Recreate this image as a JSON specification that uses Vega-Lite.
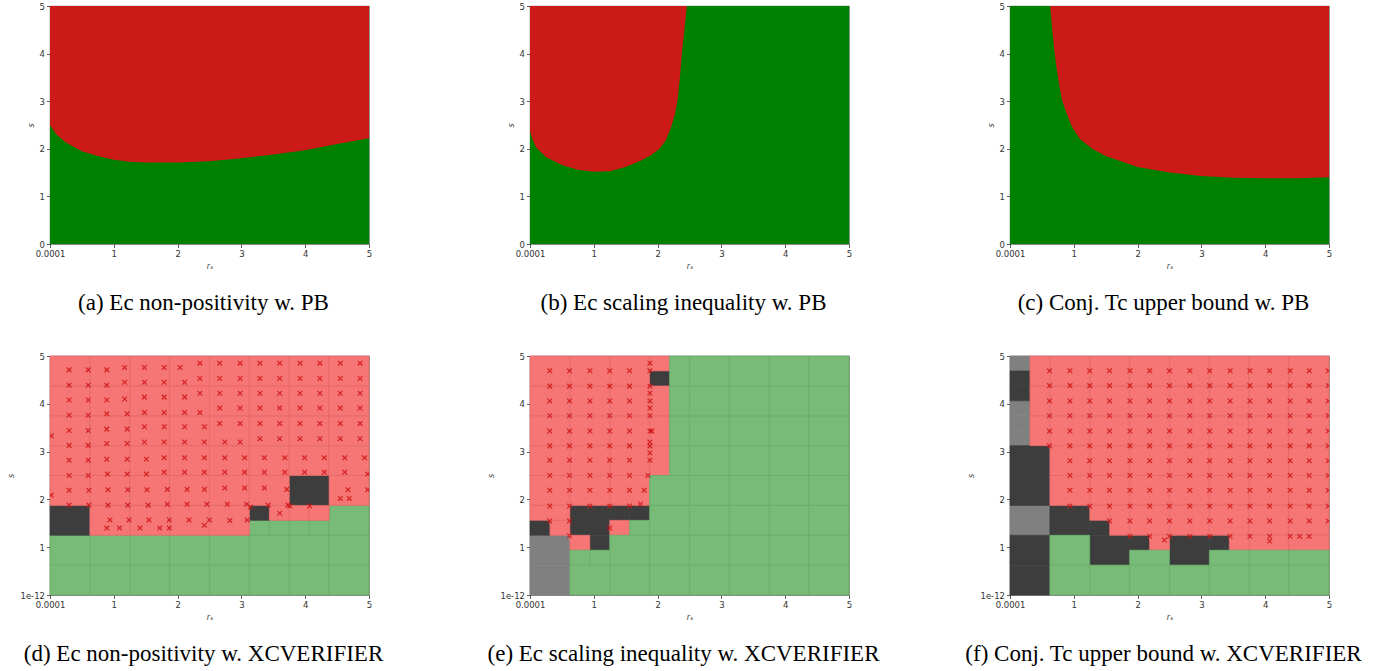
{
  "$schema": "https://vega.github.io/schema/vega-lite/v6.json",
  "background": "white",
  "padding": {"left": 7, "top": 1, "right": 5, "bottom": 0},
  "config": {
    "axis": {"labelFont": "DejaVu Sans", "labelFontSize": 8.5, "labelColor": "#333", "labelFlush": false, "tickColor": "#333", "tickSize": 3.5, "tickWidth": 0.8, "domain": false, "grid": false, "titleFont": "DejaVu Sans", "titleFontSize": 8, "titleFontWeight": "normal", "titleFontStyle": "italic", "titleColor": "#444"},
    "view": {"stroke": "#888", "strokeWidth": 1.2},
    "title": {"font": "Liberation Serif", "fontSize": 23, "fontWeight": "normal", "color": "#000", "orient": "bottom", "anchor": "middle", "frame": "group", "offset": 22, "dx": -6}
  },
  "datasets": {
    "curves": [
      {"p":"a","r":0.0001,"s":2.5},{"p":"a","r":0.1,"s":2.3},{"p":"a","r":0.25,"s":2.13},{"p":"a","r":0.5,"s":1.95},{"p":"a","r":0.75,"s":1.85},{"p":"a","r":1,"s":1.77},{"p":"a","r":1.25,"s":1.73},{"p":"a","r":1.5,"s":1.71},{"p":"a","r":2,"s":1.71},{"p":"a","r":2.5,"s":1.74},{"p":"a","r":3,"s":1.8},{"p":"a","r":3.5,"s":1.88},{"p":"a","r":4,"s":1.97},{"p":"a","r":4.5,"s":2.1},{"p":"a","r":5,"s":2.22},
      {"p":"b","r":0.0001,"s":2.37},{"p":"b","r":0.05,"s":2.16},{"p":"b","r":0.1,"s":2.02},{"p":"b","r":0.25,"s":1.83},{"p":"b","r":0.5,"s":1.66},{"p":"b","r":0.75,"s":1.56},{"p":"b","r":1,"s":1.52},{"p":"b","r":1.25,"s":1.53},{"p":"b","r":1.5,"s":1.62},{"p":"b","r":1.75,"s":1.76},{"p":"b","r":1.9,"s":1.87},{"p":"b","r":2.03,"s":2.0},{"p":"b","r":2.13,"s":2.18},{"p":"b","r":2.21,"s":2.45},{"p":"b","r":2.27,"s":2.72},{"p":"b","r":2.31,"s":3.0},{"p":"b","r":2.35,"s":3.5},{"p":"b","r":2.38,"s":4.0},{"p":"b","r":2.42,"s":4.5},{"p":"b","r":2.46,"s":5},{"p":"b","r":5,"s":5},
      {"p":"c","r":0.0001,"s":5},{"p":"c","r":0.63,"s":5},{"p":"c","r":0.67,"s":4.4},{"p":"c","r":0.7,"s":4.0},{"p":"c","r":0.73,"s":3.7},{"p":"c","r":0.77,"s":3.35},{"p":"c","r":0.82,"s":3.0},{"p":"c","r":0.9,"s":2.7},{"p":"c","r":0.98,"s":2.44},{"p":"c","r":1.1,"s":2.2},{"p":"c","r":1.29,"s":2.0},{"p":"c","r":1.5,"s":1.85},{"p":"c","r":2,"s":1.62},{"p":"c","r":2.5,"s":1.5},{"p":"c","r":3,"s":1.43},{"p":"c","r":3.5,"s":1.39},{"p":"c","r":4,"s":1.38},{"p":"c","r":4.5,"s":1.38},{"p":"c","r":5,"s":1.4}
    ],
    "cells": [
      {"p":"d","x0":0,"x1":0.625,"y0":0,"y1":0.625,"st":"ok"},{"p":"d","x0":0.625,"x1":1.25,"y0":0,"y1":0.625,"st":"ok"},{"p":"d","x0":1.25,"x1":1.875,"y0":0,"y1":0.625,"st":"ok"},{"p":"d","x0":1.875,"x1":2.5,"y0":0,"y1":0.625,"st":"ok"},{"p":"d","x0":2.5,"x1":3.125,"y0":0,"y1":0.625,"st":"ok"},{"p":"d","x0":3.125,"x1":3.75,"y0":0,"y1":0.625,"st":"ok"},{"p":"d","x0":3.75,"x1":4.375,"y0":0,"y1":0.625,"st":"ok"},{"p":"d","x0":4.375,"x1":5,"y0":0,"y1":0.625,"st":"ok"},
      {"p":"d","x0":0,"x1":0.625,"y0":0.625,"y1":1.25,"st":"ok"},{"p":"d","x0":0.625,"x1":1.25,"y0":0.625,"y1":1.25,"st":"ok"},{"p":"d","x0":1.25,"x1":1.875,"y0":0.625,"y1":1.25,"st":"ok"},{"p":"d","x0":1.875,"x1":2.5,"y0":0.625,"y1":1.25,"st":"ok"},{"p":"d","x0":2.5,"x1":3.125,"y0":0.625,"y1":1.25,"st":"ok"},{"p":"d","x0":3.125,"x1":3.75,"y0":0.625,"y1":1.25,"st":"ok"},{"p":"d","x0":3.75,"x1":4.375,"y0":0.625,"y1":1.25,"st":"ok"},{"p":"d","x0":4.375,"x1":5,"y0":0.625,"y1":1.25,"st":"ok"},
      {"p":"d","x0":3.125,"x1":3.4375,"y0":1.25,"y1":1.5625,"st":"ok"},{"p":"d","x0":3.4375,"x1":3.75,"y0":1.25,"y1":1.5625,"st":"ok"},{"p":"d","x0":3.75,"x1":4.0625,"y0":1.25,"y1":1.5625,"st":"ok"},{"p":"d","x0":4.0625,"x1":4.375,"y0":1.25,"y1":1.5625,"st":"ok"},{"p":"d","x0":4.375,"x1":5,"y0":1.25,"y1":1.875,"st":"ok"},
      {"p":"d","x0":0,"x1":0.625,"y0":1.25,"y1":1.875,"st":"open"},{"p":"d","x0":3.125,"x1":3.4375,"y0":1.5625,"y1":1.875,"st":"open"},{"p":"d","x0":3.75,"x1":4.375,"y0":1.875,"y1":2.5,"st":"open"},
      {"p":"d","x0":0.625,"x1":1.25,"y0":1.25,"y1":1.875,"st":"fail"},{"p":"d","x0":1.25,"x1":1.875,"y0":1.25,"y1":1.875,"st":"fail"},{"p":"d","x0":1.875,"x1":2.5,"y0":1.25,"y1":1.875,"st":"fail"},{"p":"d","x0":2.5,"x1":3.125,"y0":1.25,"y1":1.875,"st":"fail"},{"p":"d","x0":3.4375,"x1":3.75,"y0":1.5625,"y1":1.875,"st":"fail"},{"p":"d","x0":3.75,"x1":4.0625,"y0":1.5625,"y1":1.875,"st":"fail"},{"p":"d","x0":4.0625,"x1":4.375,"y0":1.5625,"y1":1.875,"st":"fail"},
      {"p":"d","x0":0,"x1":0.625,"y0":1.875,"y1":2.5,"st":"fail"},{"p":"d","x0":0.625,"x1":1.25,"y0":1.875,"y1":2.5,"st":"fail"},{"p":"d","x0":1.25,"x1":1.875,"y0":1.875,"y1":2.5,"st":"fail"},{"p":"d","x0":1.875,"x1":2.5,"y0":1.875,"y1":2.5,"st":"fail"},{"p":"d","x0":2.5,"x1":3.125,"y0":1.875,"y1":2.5,"st":"fail"},{"p":"d","x0":3.125,"x1":3.75,"y0":1.875,"y1":2.5,"st":"fail"},{"p":"d","x0":4.375,"x1":5,"y0":1.875,"y1":2.5,"st":"fail"},
      {"p":"d","x0":0,"x1":0.625,"y0":2.5,"y1":3.125,"st":"fail"},{"p":"d","x0":0.625,"x1":1.25,"y0":2.5,"y1":3.125,"st":"fail"},{"p":"d","x0":1.25,"x1":1.875,"y0":2.5,"y1":3.125,"st":"fail"},{"p":"d","x0":1.875,"x1":2.5,"y0":2.5,"y1":3.125,"st":"fail"},{"p":"d","x0":2.5,"x1":3.125,"y0":2.5,"y1":3.125,"st":"fail"},{"p":"d","x0":3.125,"x1":3.75,"y0":2.5,"y1":3.125,"st":"fail"},{"p":"d","x0":3.75,"x1":4.375,"y0":2.5,"y1":3.125,"st":"fail"},{"p":"d","x0":4.375,"x1":5,"y0":2.5,"y1":3.125,"st":"fail"},
      {"p":"d","x0":0,"x1":0.625,"y0":3.125,"y1":3.75,"st":"fail"},{"p":"d","x0":0.625,"x1":1.25,"y0":3.125,"y1":3.75,"st":"fail"},{"p":"d","x0":1.25,"x1":1.875,"y0":3.125,"y1":3.75,"st":"fail"},{"p":"d","x0":1.875,"x1":2.5,"y0":3.125,"y1":3.75,"st":"fail"},{"p":"d","x0":2.5,"x1":3.125,"y0":3.125,"y1":3.75,"st":"fail"},{"p":"d","x0":3.125,"x1":3.75,"y0":3.125,"y1":3.75,"st":"fail"},{"p":"d","x0":3.75,"x1":4.375,"y0":3.125,"y1":3.75,"st":"fail"},{"p":"d","x0":4.375,"x1":5,"y0":3.125,"y1":3.75,"st":"fail"},
      {"p":"d","x0":0,"x1":0.625,"y0":3.75,"y1":4.375,"st":"fail"},{"p":"d","x0":0.625,"x1":1.25,"y0":3.75,"y1":4.375,"st":"fail"},{"p":"d","x0":1.25,"x1":1.875,"y0":3.75,"y1":4.375,"st":"fail"},{"p":"d","x0":1.875,"x1":2.5,"y0":3.75,"y1":4.375,"st":"fail"},{"p":"d","x0":2.5,"x1":3.125,"y0":3.75,"y1":4.375,"st":"fail"},{"p":"d","x0":3.125,"x1":3.75,"y0":3.75,"y1":4.375,"st":"fail"},{"p":"d","x0":3.75,"x1":4.375,"y0":3.75,"y1":4.375,"st":"fail"},{"p":"d","x0":4.375,"x1":5,"y0":3.75,"y1":4.375,"st":"fail"},
      {"p":"d","x0":0,"x1":0.625,"y0":4.375,"y1":5,"st":"fail"},{"p":"d","x0":0.625,"x1":1.25,"y0":4.375,"y1":5,"st":"fail"},{"p":"d","x0":1.25,"x1":1.875,"y0":4.375,"y1":5,"st":"fail"},{"p":"d","x0":1.875,"x1":2.5,"y0":4.375,"y1":5,"st":"fail"},{"p":"d","x0":2.5,"x1":3.125,"y0":4.375,"y1":5,"st":"fail"},{"p":"d","x0":3.125,"x1":3.75,"y0":4.375,"y1":5,"st":"fail"},{"p":"d","x0":3.75,"x1":4.375,"y0":4.375,"y1":5,"st":"fail"},{"p":"d","x0":4.375,"x1":5,"y0":4.375,"y1":5,"st":"fail"},

      {"p":"e","x0":0,"x1":0.625,"y0":0,"y1":0.625,"st":"na"},{"p":"e","x0":0,"x1":0.625,"y0":0.625,"y1":1.25,"st":"na"},
      {"p":"e","x0":0,"x1":0.3125,"y0":1.25,"y1":1.5625,"st":"open"},{"p":"e","x0":0.625,"x1":1.25,"y0":1.25,"y1":1.875,"st":"open"},{"p":"e","x0":1.25,"x1":1.5625,"y0":1.5625,"y1":1.875,"st":"open"},{"p":"e","x0":1.5625,"x1":1.875,"y0":1.5625,"y1":1.875,"st":"open"},{"p":"e","x0":0.9375,"x1":1.25,"y0":0.9375,"y1":1.25,"st":"open"},{"p":"e","x0":1.875,"x1":2.1875,"y0":4.375,"y1":4.6875,"st":"open"},
      {"p":"e","x0":0.3125,"x1":0.625,"y0":1.25,"y1":1.5625,"st":"fail"},{"p":"e","x0":0,"x1":0.625,"y0":1.5625,"y1":1.875,"st":"fail"},{"p":"e","x0":1.25,"x1":1.5625,"y0":1.25,"y1":1.5625,"st":"fail"},{"p":"e","x0":0.625,"x1":0.9375,"y0":0.9375,"y1":1.25,"st":"fail"},
      {"p":"e","x0":0,"x1":0.625,"y0":1.875,"y1":2.5,"st":"fail"},{"p":"e","x0":0.625,"x1":1.25,"y0":1.875,"y1":2.5,"st":"fail"},{"p":"e","x0":1.25,"x1":1.875,"y0":1.875,"y1":2.5,"st":"fail"},
      {"p":"e","x0":0,"x1":0.625,"y0":2.5,"y1":3.125,"st":"fail"},{"p":"e","x0":0.625,"x1":1.25,"y0":2.5,"y1":3.125,"st":"fail"},{"p":"e","x0":1.25,"x1":1.875,"y0":2.5,"y1":3.125,"st":"fail"},
      {"p":"e","x0":0,"x1":0.625,"y0":3.125,"y1":3.75,"st":"fail"},{"p":"e","x0":0.625,"x1":1.25,"y0":3.125,"y1":3.75,"st":"fail"},{"p":"e","x0":1.25,"x1":1.875,"y0":3.125,"y1":3.75,"st":"fail"},
      {"p":"e","x0":0,"x1":0.625,"y0":3.75,"y1":4.375,"st":"fail"},{"p":"e","x0":0.625,"x1":1.25,"y0":3.75,"y1":4.375,"st":"fail"},{"p":"e","x0":1.25,"x1":1.875,"y0":3.75,"y1":4.375,"st":"fail"},
      {"p":"e","x0":0,"x1":0.625,"y0":4.375,"y1":5,"st":"fail"},{"p":"e","x0":0.625,"x1":1.25,"y0":4.375,"y1":5,"st":"fail"},{"p":"e","x0":1.25,"x1":1.875,"y0":4.375,"y1":5,"st":"fail"},
      {"p":"e","x0":1.875,"x1":2.1875,"y0":2.5,"y1":3.125,"st":"fail"},{"p":"e","x0":1.875,"x1":2.1875,"y0":3.125,"y1":3.75,"st":"fail"},{"p":"e","x0":1.875,"x1":2.1875,"y0":3.75,"y1":4.375,"st":"fail"},{"p":"e","x0":1.875,"x1":2.1875,"y0":4.6875,"y1":5,"st":"fail"},
      {"p":"e","x0":0.625,"x1":1.25,"y0":0,"y1":0.625,"st":"ok"},{"p":"e","x0":1.25,"x1":1.875,"y0":0,"y1":0.625,"st":"ok"},{"p":"e","x0":1.875,"x1":2.5,"y0":0,"y1":0.625,"st":"ok"},{"p":"e","x0":2.5,"x1":3.125,"y0":0,"y1":0.625,"st":"ok"},{"p":"e","x0":3.125,"x1":3.75,"y0":0,"y1":0.625,"st":"ok"},{"p":"e","x0":3.75,"x1":4.375,"y0":0,"y1":0.625,"st":"ok"},{"p":"e","x0":4.375,"x1":5,"y0":0,"y1":0.625,"st":"ok"},
      {"p":"e","x0":0.625,"x1":0.9375,"y0":0.625,"y1":0.9375,"st":"ok"},{"p":"e","x0":0.9375,"x1":1.25,"y0":0.625,"y1":0.9375,"st":"ok"},
      {"p":"e","x0":1.25,"x1":1.875,"y0":0.625,"y1":1.25,"st":"ok"},{"p":"e","x0":1.875,"x1":2.5,"y0":0.625,"y1":1.25,"st":"ok"},{"p":"e","x0":2.5,"x1":3.125,"y0":0.625,"y1":1.25,"st":"ok"},{"p":"e","x0":3.125,"x1":3.75,"y0":0.625,"y1":1.25,"st":"ok"},{"p":"e","x0":3.75,"x1":4.375,"y0":0.625,"y1":1.25,"st":"ok"},{"p":"e","x0":4.375,"x1":5,"y0":0.625,"y1":1.25,"st":"ok"},
      {"p":"e","x0":1.5625,"x1":1.875,"y0":1.25,"y1":1.5625,"st":"ok"},
      {"p":"e","x0":1.875,"x1":2.5,"y0":1.25,"y1":1.875,"st":"ok"},{"p":"e","x0":2.5,"x1":3.125,"y0":1.25,"y1":1.875,"st":"ok"},{"p":"e","x0":3.125,"x1":3.75,"y0":1.25,"y1":1.875,"st":"ok"},{"p":"e","x0":3.75,"x1":4.375,"y0":1.25,"y1":1.875,"st":"ok"},{"p":"e","x0":4.375,"x1":5,"y0":1.25,"y1":1.875,"st":"ok"},
      {"p":"e","x0":1.875,"x1":2.5,"y0":1.875,"y1":2.5,"st":"ok"},{"p":"e","x0":2.5,"x1":3.125,"y0":1.875,"y1":2.5,"st":"ok"},{"p":"e","x0":3.125,"x1":3.75,"y0":1.875,"y1":2.5,"st":"ok"},{"p":"e","x0":3.75,"x1":4.375,"y0":1.875,"y1":2.5,"st":"ok"},{"p":"e","x0":4.375,"x1":5,"y0":1.875,"y1":2.5,"st":"ok"},
      {"p":"e","x0":2.1875,"x1":2.5,"y0":2.5,"y1":3.125,"st":"ok"},{"p":"e","x0":2.1875,"x1":2.5,"y0":3.125,"y1":3.75,"st":"ok"},{"p":"e","x0":2.1875,"x1":2.5,"y0":3.75,"y1":4.375,"st":"ok"},{"p":"e","x0":2.1875,"x1":2.5,"y0":4.375,"y1":5,"st":"ok"},
      {"p":"e","x0":2.5,"x1":3.125,"y0":2.5,"y1":3.125,"st":"ok"},{"p":"e","x0":3.125,"x1":3.75,"y0":2.5,"y1":3.125,"st":"ok"},{"p":"e","x0":3.75,"x1":4.375,"y0":2.5,"y1":3.125,"st":"ok"},{"p":"e","x0":4.375,"x1":5,"y0":2.5,"y1":3.125,"st":"ok"},
      {"p":"e","x0":2.5,"x1":3.125,"y0":3.125,"y1":3.75,"st":"ok"},{"p":"e","x0":3.125,"x1":3.75,"y0":3.125,"y1":3.75,"st":"ok"},{"p":"e","x0":3.75,"x1":4.375,"y0":3.125,"y1":3.75,"st":"ok"},{"p":"e","x0":4.375,"x1":5,"y0":3.125,"y1":3.75,"st":"ok"},
      {"p":"e","x0":2.5,"x1":3.125,"y0":3.75,"y1":4.375,"st":"ok"},{"p":"e","x0":3.125,"x1":3.75,"y0":3.75,"y1":4.375,"st":"ok"},{"p":"e","x0":3.75,"x1":4.375,"y0":3.75,"y1":4.375,"st":"ok"},{"p":"e","x0":4.375,"x1":5,"y0":3.75,"y1":4.375,"st":"ok"},
      {"p":"e","x0":2.5,"x1":3.125,"y0":4.375,"y1":5,"st":"ok"},{"p":"e","x0":3.125,"x1":3.75,"y0":4.375,"y1":5,"st":"ok"},{"p":"e","x0":3.75,"x1":4.375,"y0":4.375,"y1":5,"st":"ok"},{"p":"e","x0":4.375,"x1":5,"y0":4.375,"y1":5,"st":"ok"},

      {"p":"f","x0":0,"x1":0.3125,"y0":4.6875,"y1":5,"st":"na"},{"p":"f","x0":0,"x1":0.3125,"y0":3.125,"y1":3.4375,"st":"na"},{"p":"f","x0":0,"x1":0.3125,"y0":3.4375,"y1":3.75,"st":"na"},{"p":"f","x0":0,"x1":0.3125,"y0":3.75,"y1":4.0625,"st":"na"},{"p":"f","x0":0,"x1":0.625,"y0":1.25,"y1":1.875,"st":"na"},
      {"p":"f","x0":0,"x1":0.3125,"y0":4.0625,"y1":4.375,"st":"open"},{"p":"f","x0":0,"x1":0.3125,"y0":4.375,"y1":4.6875,"st":"open"},{"p":"f","x0":0,"x1":0.625,"y0":1.875,"y1":2.5,"st":"open"},{"p":"f","x0":0,"x1":0.625,"y0":2.5,"y1":3.125,"st":"open"},{"p":"f","x0":0,"x1":0.625,"y0":0,"y1":0.625,"st":"open"},{"p":"f","x0":0,"x1":0.625,"y0":0.625,"y1":1.25,"st":"open"},{"p":"f","x0":0.625,"x1":1.25,"y0":1.25,"y1":1.875,"st":"open"},{"p":"f","x0":1.25,"x1":1.5625,"y0":1.25,"y1":1.5625,"st":"open"},{"p":"f","x0":1.25,"x1":1.875,"y0":0.625,"y1":1.25,"st":"open"},{"p":"f","x0":1.875,"x1":2.1875,"y0":0.9375,"y1":1.25,"st":"open"},{"p":"f","x0":2.5,"x1":3.125,"y0":0.625,"y1":1.25,"st":"open"},{"p":"f","x0":3.125,"x1":3.4375,"y0":0.9375,"y1":1.25,"st":"open"},
      {"p":"f","x0":0.3125,"x1":0.625,"y0":3.125,"y1":3.75,"st":"fail"},{"p":"f","x0":0.3125,"x1":0.625,"y0":3.75,"y1":4.375,"st":"fail"},{"p":"f","x0":0.3125,"x1":0.625,"y0":4.375,"y1":5,"st":"fail"},
      {"p":"f","x0":0.625,"x1":1.25,"y0":1.875,"y1":2.5,"st":"fail"},{"p":"f","x0":1.25,"x1":1.875,"y0":1.875,"y1":2.5,"st":"fail"},{"p":"f","x0":1.875,"x1":2.5,"y0":1.875,"y1":2.5,"st":"fail"},{"p":"f","x0":2.5,"x1":3.125,"y0":1.875,"y1":2.5,"st":"fail"},{"p":"f","x0":3.125,"x1":3.75,"y0":1.875,"y1":2.5,"st":"fail"},{"p":"f","x0":3.75,"x1":4.375,"y0":1.875,"y1":2.5,"st":"fail"},{"p":"f","x0":4.375,"x1":5,"y0":1.875,"y1":2.5,"st":"fail"},
      {"p":"f","x0":0.625,"x1":1.25,"y0":2.5,"y1":3.125,"st":"fail"},{"p":"f","x0":1.25,"x1":1.875,"y0":2.5,"y1":3.125,"st":"fail"},{"p":"f","x0":1.875,"x1":2.5,"y0":2.5,"y1":3.125,"st":"fail"},{"p":"f","x0":2.5,"x1":3.125,"y0":2.5,"y1":3.125,"st":"fail"},{"p":"f","x0":3.125,"x1":3.75,"y0":2.5,"y1":3.125,"st":"fail"},{"p":"f","x0":3.75,"x1":4.375,"y0":2.5,"y1":3.125,"st":"fail"},{"p":"f","x0":4.375,"x1":5,"y0":2.5,"y1":3.125,"st":"fail"},
      {"p":"f","x0":0.625,"x1":1.25,"y0":3.125,"y1":3.75,"st":"fail"},{"p":"f","x0":1.25,"x1":1.875,"y0":3.125,"y1":3.75,"st":"fail"},{"p":"f","x0":1.875,"x1":2.5,"y0":3.125,"y1":3.75,"st":"fail"},{"p":"f","x0":2.5,"x1":3.125,"y0":3.125,"y1":3.75,"st":"fail"},{"p":"f","x0":3.125,"x1":3.75,"y0":3.125,"y1":3.75,"st":"fail"},{"p":"f","x0":3.75,"x1":4.375,"y0":3.125,"y1":3.75,"st":"fail"},{"p":"f","x0":4.375,"x1":5,"y0":3.125,"y1":3.75,"st":"fail"},
      {"p":"f","x0":0.625,"x1":1.25,"y0":3.75,"y1":4.375,"st":"fail"},{"p":"f","x0":1.25,"x1":1.875,"y0":3.75,"y1":4.375,"st":"fail"},{"p":"f","x0":1.875,"x1":2.5,"y0":3.75,"y1":4.375,"st":"fail"},{"p":"f","x0":2.5,"x1":3.125,"y0":3.75,"y1":4.375,"st":"fail"},{"p":"f","x0":3.125,"x1":3.75,"y0":3.75,"y1":4.375,"st":"fail"},{"p":"f","x0":3.75,"x1":4.375,"y0":3.75,"y1":4.375,"st":"fail"},{"p":"f","x0":4.375,"x1":5,"y0":3.75,"y1":4.375,"st":"fail"},
      {"p":"f","x0":0.625,"x1":1.25,"y0":4.375,"y1":5,"st":"fail"},{"p":"f","x0":1.25,"x1":1.875,"y0":4.375,"y1":5,"st":"fail"},{"p":"f","x0":1.875,"x1":2.5,"y0":4.375,"y1":5,"st":"fail"},{"p":"f","x0":2.5,"x1":3.125,"y0":4.375,"y1":5,"st":"fail"},{"p":"f","x0":3.125,"x1":3.75,"y0":4.375,"y1":5,"st":"fail"},{"p":"f","x0":3.75,"x1":4.375,"y0":4.375,"y1":5,"st":"fail"},{"p":"f","x0":4.375,"x1":5,"y0":4.375,"y1":5,"st":"fail"},
      {"p":"f","x0":1.25,"x1":1.5625,"y0":1.5625,"y1":1.875,"st":"fail"},{"p":"f","x0":1.5625,"x1":1.875,"y0":1.25,"y1":1.875,"st":"fail"},{"p":"f","x0":1.875,"x1":2.5,"y0":1.25,"y1":1.875,"st":"fail"},{"p":"f","x0":2.5,"x1":3.125,"y0":1.25,"y1":1.875,"st":"fail"},{"p":"f","x0":3.125,"x1":3.75,"y0":1.25,"y1":1.875,"st":"fail"},{"p":"f","x0":3.75,"x1":4.375,"y0":1.25,"y1":1.875,"st":"fail"},{"p":"f","x0":4.375,"x1":5,"y0":1.25,"y1":1.875,"st":"fail"},
      {"p":"f","x0":2.1875,"x1":2.5,"y0":0.9375,"y1":1.25,"st":"fail"},{"p":"f","x0":3.4375,"x1":3.75,"y0":0.9375,"y1":1.25,"st":"fail"},{"p":"f","x0":3.75,"x1":4.375,"y0":0.9375,"y1":1.25,"st":"fail"},{"p":"f","x0":4.375,"x1":5,"y0":0.9375,"y1":1.25,"st":"fail"},
      {"p":"f","x0":0.625,"x1":1.25,"y0":0,"y1":0.625,"st":"ok"},{"p":"f","x0":0.625,"x1":1.25,"y0":0.625,"y1":1.25,"st":"ok"},{"p":"f","x0":1.25,"x1":1.875,"y0":0,"y1":0.625,"st":"ok"},{"p":"f","x0":1.875,"x1":2.5,"y0":0,"y1":0.625,"st":"ok"},{"p":"f","x0":2.5,"x1":3.125,"y0":0,"y1":0.625,"st":"ok"},{"p":"f","x0":3.125,"x1":3.75,"y0":0,"y1":0.625,"st":"ok"},{"p":"f","x0":3.75,"x1":4.375,"y0":0,"y1":0.625,"st":"ok"},{"p":"f","x0":4.375,"x1":5,"y0":0,"y1":0.625,"st":"ok"},
      {"p":"f","x0":1.875,"x1":2.5,"y0":0.625,"y1":0.9375,"st":"ok"},{"p":"f","x0":3.125,"x1":3.75,"y0":0.625,"y1":0.9375,"st":"ok"},{"p":"f","x0":3.75,"x1":4.375,"y0":0.625,"y1":0.9375,"st":"ok"},{"p":"f","x0":4.375,"x1":5,"y0":0.625,"y1":0.9375,"st":"ok"}
    ],
    "pts": [
      {"p":"d","r":2.35,"s":4.85},{"p":"d","r":2.66,"s":4.85},{"p":"d","r":2.98,"s":4.85},{"p":"d","r":3.29,"s":4.85},{"p":"d","r":3.6,"s":4.85},{"p":"d","r":3.92,"s":4.85},{"p":"d","r":4.23,"s":4.85},{"p":"d","r":4.55,"s":4.85},{"p":"d","r":4.86,"s":4.85},
      {"p":"d","r":1.17,"s":4.76},{"p":"d","r":1.48,"s":4.76},{"p":"d","r":1.79,"s":4.76},{"p":"d","r":2.04,"s":4.76},
      {"p":"d","r":0.3,"s":4.71},{"p":"d","r":0.6,"s":4.71},{"p":"d","r":0.89,"s":4.71},
      {"p":"d","r":2.35,"s":4.53},{"p":"d","r":2.66,"s":4.53},{"p":"d","r":2.98,"s":4.53},{"p":"d","r":3.29,"s":4.53},{"p":"d","r":3.6,"s":4.53},{"p":"d","r":3.92,"s":4.53},{"p":"d","r":4.23,"s":4.53},{"p":"d","r":4.55,"s":4.53},{"p":"d","r":4.86,"s":4.53},
      {"p":"d","r":1.17,"s":4.45},{"p":"d","r":1.48,"s":4.45},{"p":"d","r":1.79,"s":4.45},{"p":"d","r":2.11,"s":4.45},
      {"p":"d","r":0.3,"s":4.39},{"p":"d","r":0.6,"s":4.39},{"p":"d","r":0.89,"s":4.39},
      {"p":"d","r":2.35,"s":4.22},{"p":"d","r":2.66,"s":4.22},{"p":"d","r":2.98,"s":4.22},{"p":"d","r":3.29,"s":4.22},{"p":"d","r":3.6,"s":4.22},{"p":"d","r":3.92,"s":4.22},{"p":"d","r":4.23,"s":4.22},{"p":"d","r":4.55,"s":4.22},{"p":"d","r":4.86,"s":4.22},
      {"p":"d","r":1.48,"s":4.14},{"p":"d","r":1.79,"s":4.14},{"p":"d","r":2.11,"s":4.14},{"p":"d","r":1.17,"s":4.1},
      {"p":"d","r":0.3,"s":4.08},{"p":"d","r":0.6,"s":4.08},{"p":"d","r":0.89,"s":4.08},
      {"p":"d","r":2.66,"s":3.91},{"p":"d","r":2.98,"s":3.91},{"p":"d","r":3.29,"s":3.91},{"p":"d","r":3.6,"s":3.91},{"p":"d","r":3.92,"s":3.91},{"p":"d","r":4.23,"s":3.91},{"p":"d","r":4.55,"s":3.91},{"p":"d","r":4.86,"s":3.91},
      {"p":"d","r":1.48,"s":3.82},{"p":"d","r":1.79,"s":3.82},{"p":"d","r":2.11,"s":3.82},{"p":"d","r":2.35,"s":3.82},
      {"p":"d","r":0.89,"s":3.79},{"p":"d","r":1.21,"s":3.79},{"p":"d","r":0.3,"s":3.76},{"p":"d","r":0.6,"s":3.76},
      {"p":"d","r":2.66,"s":3.59},{"p":"d","r":2.98,"s":3.59},{"p":"d","r":3.29,"s":3.59},{"p":"d","r":3.6,"s":3.59},{"p":"d","r":3.92,"s":3.59},{"p":"d","r":4.23,"s":3.59},{"p":"d","r":4.55,"s":3.59},{"p":"d","r":4.86,"s":3.59},
      {"p":"d","r":1.48,"s":3.52},{"p":"d","r":1.79,"s":3.52},{"p":"d","r":2.11,"s":3.52},{"p":"d","r":2.42,"s":3.52},
      {"p":"d","r":0.89,"s":3.47},{"p":"d","r":1.21,"s":3.47},{"p":"d","r":0.3,"s":3.44},{"p":"d","r":0.6,"s":3.44},
      {"p":"d","r":0.02,"s":3.33},
      {"p":"d","r":3.29,"s":3.27},{"p":"d","r":3.6,"s":3.27},{"p":"d","r":3.92,"s":3.27},{"p":"d","r":4.23,"s":3.27},{"p":"d","r":4.55,"s":3.27},{"p":"d","r":4.86,"s":3.27},
      {"p":"d","r":1.48,"s":3.2},{"p":"d","r":1.79,"s":3.2},{"p":"d","r":2.11,"s":3.2},{"p":"d","r":2.42,"s":3.2},{"p":"d","r":2.74,"s":3.2},{"p":"d","r":2.98,"s":3.2},
      {"p":"d","r":0.89,"s":3.17},{"p":"d","r":1.21,"s":3.17},{"p":"d","r":0.3,"s":3.13},{"p":"d","r":0.6,"s":3.13},
      {"p":"d","r":1.79,"s":2.87},{"p":"d","r":2.11,"s":2.87},{"p":"d","r":2.42,"s":2.87},{"p":"d","r":2.74,"s":2.87},{"p":"d","r":3.05,"s":2.87},{"p":"d","r":3.36,"s":2.87},{"p":"d","r":3.68,"s":2.87},{"p":"d","r":3.99,"s":2.87},{"p":"d","r":4.3,"s":2.87},{"p":"d","r":4.62,"s":2.87},{"p":"d","r":4.93,"s":2.87},
      {"p":"d","r":0.89,"s":2.84},{"p":"d","r":1.21,"s":2.84},{"p":"d","r":1.51,"s":2.84},{"p":"d","r":0.3,"s":2.82},{"p":"d","r":0.6,"s":2.82},
      {"p":"d","r":1.79,"s":2.57},{"p":"d","r":2.11,"s":2.57},{"p":"d","r":2.42,"s":2.57},{"p":"d","r":2.74,"s":2.57},{"p":"d","r":3.05,"s":2.57},{"p":"d","r":3.36,"s":2.57},{"p":"d","r":3.68,"s":2.57},{"p":"d","r":3.99,"s":2.57},{"p":"d","r":4.3,"s":2.57},{"p":"d","r":4.62,"s":2.57},
      {"p":"d","r":0.9,"s":2.53},{"p":"d","r":1.21,"s":2.53},{"p":"d","r":1.51,"s":2.53},{"p":"d","r":4.98,"s":2.53},{"p":"d","r":0.3,"s":2.5},{"p":"d","r":0.6,"s":2.5},
      {"p":"d","r":2.74,"s":2.24},{"p":"d","r":3.05,"s":2.24},{"p":"d","r":3.36,"s":2.24},
      {"p":"d","r":1.84,"s":2.21},{"p":"d","r":2.15,"s":2.21},{"p":"d","r":2.42,"s":2.21},{"p":"d","r":3.71,"s":2.21},
      {"p":"d","r":0.91,"s":2.2},{"p":"d","r":1.22,"s":2.2},{"p":"d","r":1.52,"s":2.2},{"p":"d","r":4.67,"s":2.2},{"p":"d","r":4.98,"s":2.2},
      {"p":"d","r":0.3,"s":2.19},{"p":"d","r":0.61,"s":2.19},{"p":"d","r":0.02,"s":2.09},{"p":"d","r":4.55,"s":2.02},{"p":"d","r":4.69,"s":2.02},
      {"p":"d","r":1.84,"s":1.9},{"p":"d","r":2.15,"s":1.9},{"p":"d","r":2.46,"s":1.9},{"p":"d","r":2.78,"s":1.9},{"p":"d","r":3.08,"s":1.9},
      {"p":"d","r":0.3,"s":1.88},{"p":"d","r":0.61,"s":1.88},{"p":"d","r":0.91,"s":1.88},{"p":"d","r":1.22,"s":1.88},{"p":"d","r":1.54,"s":1.88},{"p":"d","r":3.42,"s":1.88},{"p":"d","r":3.73,"s":1.88},
      {"p":"d","r":3.76,"s":1.86},{"p":"d","r":4.07,"s":1.86},{"p":"d","r":3.14,"s":1.84},{"p":"d","r":3.6,"s":1.71},
      {"p":"d","r":0.94,"s":1.57},{"p":"d","r":1.24,"s":1.57},{"p":"d","r":1.55,"s":1.57},{"p":"d","r":1.87,"s":1.57},{"p":"d","r":2.18,"s":1.57},{"p":"d","r":2.5,"s":1.57},{"p":"d","r":3.09,"s":1.57},{"p":"d","r":2.82,"s":1.56},
      {"p":"d","r":2.42,"s":1.46},
      {"p":"d","r":0.89,"s":1.4},{"p":"d","r":1.09,"s":1.4},{"p":"d","r":1.41,"s":1.4},{"p":"d","r":1.72,"s":1.4},{"p":"d","r":1.87,"s":1.4},

      {"p":"e","r":0.31,"s":4.69},{"p":"e","r":0.62,"s":4.69},{"p":"e","r":0.94,"s":4.69},{"p":"e","r":1.25,"s":4.69},{"p":"e","r":1.56,"s":4.69},{"p":"e","r":1.88,"s":4.69},
      {"p":"e","r":0.31,"s":4.37},{"p":"e","r":0.62,"s":4.37},{"p":"e","r":0.94,"s":4.37},{"p":"e","r":1.25,"s":4.37},{"p":"e","r":1.56,"s":4.37},{"p":"e","r":1.88,"s":4.37},
      {"p":"e","r":0.31,"s":4.06},{"p":"e","r":0.62,"s":4.06},{"p":"e","r":0.94,"s":4.06},{"p":"e","r":1.25,"s":4.06},{"p":"e","r":1.56,"s":4.06},{"p":"e","r":1.88,"s":4.06},
      {"p":"e","r":0.31,"s":3.75},{"p":"e","r":0.62,"s":3.75},{"p":"e","r":0.94,"s":3.75},{"p":"e","r":1.25,"s":3.75},{"p":"e","r":1.56,"s":3.75},{"p":"e","r":1.88,"s":3.75},
      {"p":"e","r":0.31,"s":3.43},{"p":"e","r":0.62,"s":3.43},{"p":"e","r":0.94,"s":3.43},{"p":"e","r":1.25,"s":3.43},{"p":"e","r":1.56,"s":3.43},{"p":"e","r":1.88,"s":3.43},{"p":"e","r":1.91,"s":3.43},
      {"p":"e","r":0.31,"s":3.12},{"p":"e","r":0.62,"s":3.12},{"p":"e","r":0.94,"s":3.12},{"p":"e","r":1.25,"s":3.12},{"p":"e","r":1.56,"s":3.12},{"p":"e","r":1.88,"s":3.12},
      {"p":"e","r":0.31,"s":2.82},{"p":"e","r":0.62,"s":2.82},{"p":"e","r":0.94,"s":2.82},{"p":"e","r":1.25,"s":2.82},{"p":"e","r":1.56,"s":2.82},{"p":"e","r":1.88,"s":2.82},
      {"p":"e","r":0.31,"s":2.5},{"p":"e","r":0.62,"s":2.5},{"p":"e","r":0.94,"s":2.5},{"p":"e","r":1.25,"s":2.5},{"p":"e","r":1.56,"s":2.5},{"p":"e","r":1.85,"s":2.5},
      {"p":"e","r":0.31,"s":2.19},{"p":"e","r":0.62,"s":2.19},{"p":"e","r":0.94,"s":2.19},{"p":"e","r":1.25,"s":2.19},{"p":"e","r":1.56,"s":2.19},{"p":"e","r":1.79,"s":2.19},
      {"p":"e","r":0.31,"s":1.86},{"p":"e","r":0.62,"s":1.86},{"p":"e","r":0.94,"s":1.86},{"p":"e","r":1.25,"s":1.86},{"p":"e","r":1.56,"s":1.86},{"p":"e","r":1.73,"s":1.9},
      {"p":"e","r":0.31,"s":1.55},{"p":"e","r":0.62,"s":1.55},{"p":"e","r":1.25,"s":1.4},{"p":"e","r":0.62,"s":1.24},
      {"p":"e","r":1.88,"s":4.85},{"p":"e","r":1.88,"s":4.22},{"p":"e","r":1.88,"s":3.91},{"p":"e","r":1.88,"s":3.2},{"p":"e","r":1.88,"s":2.97},

      {"p":"f","r":0.62,"s":4.69},{"p":"f","r":0.94,"s":4.69},{"p":"f","r":1.25,"s":4.69},{"p":"f","r":1.56,"s":4.69},{"p":"f","r":1.88,"s":4.69},{"p":"f","r":2.19,"s":4.69},{"p":"f","r":2.5,"s":4.69},{"p":"f","r":2.82,"s":4.69},{"p":"f","r":3.13,"s":4.69},{"p":"f","r":3.45,"s":4.69},{"p":"f","r":3.76,"s":4.69},{"p":"f","r":4.07,"s":4.69},{"p":"f","r":4.39,"s":4.69},{"p":"f","r":4.69,"s":4.69},{"p":"f","r":4.99,"s":4.69},
      {"p":"f","r":0.62,"s":4.38},{"p":"f","r":0.94,"s":4.38},{"p":"f","r":1.25,"s":4.38},{"p":"f","r":1.56,"s":4.38},{"p":"f","r":1.88,"s":4.38},{"p":"f","r":2.19,"s":4.38},{"p":"f","r":2.5,"s":4.38},{"p":"f","r":2.82,"s":4.38},{"p":"f","r":3.13,"s":4.38},{"p":"f","r":3.45,"s":4.38},{"p":"f","r":3.76,"s":4.38},{"p":"f","r":4.07,"s":4.38},{"p":"f","r":4.39,"s":4.38},{"p":"f","r":4.69,"s":4.38},{"p":"f","r":4.99,"s":4.38},
      {"p":"f","r":0.62,"s":4.06},{"p":"f","r":0.94,"s":4.06},{"p":"f","r":1.25,"s":4.06},{"p":"f","r":1.56,"s":4.06},{"p":"f","r":1.88,"s":4.06},{"p":"f","r":2.19,"s":4.06},{"p":"f","r":2.5,"s":4.06},{"p":"f","r":2.82,"s":4.06},{"p":"f","r":3.13,"s":4.06},{"p":"f","r":3.45,"s":4.06},{"p":"f","r":3.76,"s":4.06},{"p":"f","r":4.07,"s":4.06},{"p":"f","r":4.39,"s":4.06},{"p":"f","r":4.69,"s":4.06},{"p":"f","r":4.99,"s":4.06},
      {"p":"f","r":0.62,"s":3.75},{"p":"f","r":0.94,"s":3.75},{"p":"f","r":1.25,"s":3.75},{"p":"f","r":1.56,"s":3.75},{"p":"f","r":1.88,"s":3.75},{"p":"f","r":2.19,"s":3.75},{"p":"f","r":2.5,"s":3.75},{"p":"f","r":2.82,"s":3.75},{"p":"f","r":3.13,"s":3.75},{"p":"f","r":3.45,"s":3.75},{"p":"f","r":3.76,"s":3.75},{"p":"f","r":4.07,"s":3.75},{"p":"f","r":4.39,"s":3.75},{"p":"f","r":4.69,"s":3.75},{"p":"f","r":4.99,"s":3.75},
      {"p":"f","r":0.62,"s":3.43},{"p":"f","r":0.94,"s":3.43},{"p":"f","r":1.25,"s":3.43},{"p":"f","r":1.56,"s":3.43},{"p":"f","r":1.88,"s":3.43},{"p":"f","r":2.19,"s":3.43},{"p":"f","r":2.5,"s":3.43},{"p":"f","r":2.82,"s":3.43},{"p":"f","r":3.13,"s":3.43},{"p":"f","r":3.45,"s":3.43},{"p":"f","r":3.76,"s":3.43},{"p":"f","r":4.07,"s":3.43},{"p":"f","r":4.39,"s":3.43},{"p":"f","r":4.69,"s":3.43},{"p":"f","r":4.99,"s":3.43},
      {"p":"f","r":0.62,"s":3.12},{"p":"f","r":0.94,"s":3.12},{"p":"f","r":1.25,"s":3.12},{"p":"f","r":1.56,"s":3.12},{"p":"f","r":1.88,"s":3.12},{"p":"f","r":2.19,"s":3.12},{"p":"f","r":2.5,"s":3.12},{"p":"f","r":2.82,"s":3.12},{"p":"f","r":3.13,"s":3.12},{"p":"f","r":3.45,"s":3.12},{"p":"f","r":3.76,"s":3.12},{"p":"f","r":4.07,"s":3.12},{"p":"f","r":4.39,"s":3.12},{"p":"f","r":4.69,"s":3.12},{"p":"f","r":4.99,"s":3.12},
      {"p":"f","r":0.94,"s":2.81},{"p":"f","r":1.25,"s":2.81},{"p":"f","r":1.56,"s":2.81},{"p":"f","r":1.88,"s":2.81},{"p":"f","r":2.19,"s":2.81},{"p":"f","r":2.5,"s":2.81},{"p":"f","r":2.82,"s":2.81},{"p":"f","r":3.13,"s":2.81},{"p":"f","r":3.45,"s":2.81},{"p":"f","r":3.76,"s":2.81},{"p":"f","r":4.07,"s":2.81},{"p":"f","r":4.39,"s":2.81},{"p":"f","r":4.69,"s":2.81},{"p":"f","r":4.99,"s":2.81},
      {"p":"f","r":0.94,"s":2.5},{"p":"f","r":1.25,"s":2.5},{"p":"f","r":1.56,"s":2.5},{"p":"f","r":1.88,"s":2.5},{"p":"f","r":2.19,"s":2.5},{"p":"f","r":2.5,"s":2.5},{"p":"f","r":2.82,"s":2.5},{"p":"f","r":3.13,"s":2.5},{"p":"f","r":3.45,"s":2.5},{"p":"f","r":3.76,"s":2.5},{"p":"f","r":4.07,"s":2.5},{"p":"f","r":4.39,"s":2.5},{"p":"f","r":4.69,"s":2.5},{"p":"f","r":4.99,"s":2.5},
      {"p":"f","r":0.94,"s":2.19},{"p":"f","r":1.25,"s":2.19},{"p":"f","r":1.56,"s":2.19},{"p":"f","r":1.88,"s":2.19},{"p":"f","r":2.19,"s":2.19},{"p":"f","r":2.5,"s":2.19},{"p":"f","r":2.82,"s":2.19},{"p":"f","r":3.13,"s":2.19},{"p":"f","r":3.45,"s":2.19},{"p":"f","r":3.76,"s":2.19},{"p":"f","r":4.07,"s":2.19},{"p":"f","r":4.39,"s":2.19},{"p":"f","r":4.69,"s":2.19},{"p":"f","r":4.99,"s":2.19},
      {"p":"f","r":0.94,"s":1.86},{"p":"f","r":1.25,"s":1.86},{"p":"f","r":1.56,"s":1.86},{"p":"f","r":1.88,"s":1.86},{"p":"f","r":2.19,"s":1.86},{"p":"f","r":2.5,"s":1.86},{"p":"f","r":2.82,"s":1.86},{"p":"f","r":3.13,"s":1.86},{"p":"f","r":3.45,"s":1.86},{"p":"f","r":3.76,"s":1.86},{"p":"f","r":4.07,"s":1.86},{"p":"f","r":4.39,"s":1.86},{"p":"f","r":4.69,"s":1.86},{"p":"f","r":4.99,"s":1.86},
      {"p":"f","r":1.56,"s":1.55},{"p":"f","r":1.88,"s":1.55},{"p":"f","r":2.19,"s":1.55},{"p":"f","r":2.5,"s":1.55},{"p":"f","r":2.82,"s":1.55},{"p":"f","r":3.13,"s":1.55},{"p":"f","r":3.45,"s":1.55},{"p":"f","r":3.76,"s":1.55},{"p":"f","r":4.07,"s":1.55},{"p":"f","r":4.39,"s":1.55},{"p":"f","r":4.69,"s":1.55},{"p":"f","r":4.99,"s":1.55},
      {"p":"f","r":1.88,"s":1.23},{"p":"f","r":2.19,"s":1.23},{"p":"f","r":2.5,"s":1.23},{"p":"f","r":2.82,"s":1.23},{"p":"f","r":3.13,"s":1.23},{"p":"f","r":3.45,"s":1.23},{"p":"f","r":3.76,"s":1.23},{"p":"f","r":4.07,"s":1.23},{"p":"f","r":4.39,"s":1.23},{"p":"f","r":4.54,"s":1.23},{"p":"f","r":4.69,"s":1.23},
      {"p":"f","r":2.42,"s":1.15},{"p":"f","r":4.07,"s":1.13}
    ]
  },
  "columns": 3,
  "bounds": "flush",
  "spacing": {"row": 112, "column": 161},
  "concat": [
    {
      "width": 319, "height": 238,
      "title": {"text": "(a) Ec non-positivity w. PB"},
      "data": {"name": "curves"},
      "transform": [{"filter": "datum.p === 'a'"}],
      "encoding": {"x": {"field": "r", "type": "quantitative", "scale": {"domain": [0.0001, 5], "nice": false, "zero": false}, "axis": {"values": [0.0001, 1, 2, 3, 4, 5], "labelExpr": "datum.value < 0.5 ? '0.0001' : format(datum.value, 'd')", "title": "rₛ"}}},
      "layer": [
        {"mark": {"type": "area", "color": "#cb1a17"}, "encoding": {"y": {"datum": 5, "type": "quantitative", "scale": {"domain": [0, 5], "nice": false, "zero": false}, "axis": {"values": [0, 1, 2, 3, 4, 5], "title": "s"}}, "y2": {"datum": 0}}},
        {"mark": {"type": "area", "color": "#008000"}, "encoding": {"y": {"field": "s", "type": "quantitative"}, "y2": {"datum": 0}}}
      ]
    },
    {
      "width": 319, "height": 238,
      "title": {"text": "(b) Ec scaling inequality w. PB"},
      "data": {"name": "curves"},
      "transform": [{"filter": "datum.p === 'b'"}],
      "encoding": {"x": {"field": "r", "type": "quantitative", "scale": {"domain": [0.0001, 5], "nice": false, "zero": false}, "axis": {"values": [0.0001, 1, 2, 3, 4, 5], "labelExpr": "datum.value < 0.5 ? '0.0001' : format(datum.value, 'd')", "title": "rₛ"}}},
      "layer": [
        {"mark": {"type": "area", "color": "#cb1a17"}, "encoding": {"y": {"datum": 5, "type": "quantitative", "scale": {"domain": [0, 5], "nice": false, "zero": false}, "axis": {"values": [0, 1, 2, 3, 4, 5], "title": "s"}}, "y2": {"datum": 0}}},
        {"mark": {"type": "area", "color": "#008000"}, "encoding": {"y": {"field": "s", "type": "quantitative"}, "y2": {"datum": 0}}}
      ]
    },
    {
      "width": 319, "height": 238,
      "title": {"text": "(c) Conj. Tc upper bound w. PB"},
      "data": {"name": "curves"},
      "transform": [{"filter": "datum.p === 'c'"}],
      "encoding": {"x": {"field": "r", "type": "quantitative", "scale": {"domain": [0.0001, 5], "nice": false, "zero": false}, "axis": {"values": [0.0001, 1, 2, 3, 4, 5], "labelExpr": "datum.value < 0.5 ? '0.0001' : format(datum.value, 'd')", "title": "rₛ"}}},
      "layer": [
        {"mark": {"type": "area", "color": "#cb1a17"}, "encoding": {"y": {"datum": 5, "type": "quantitative", "scale": {"domain": [0, 5], "nice": false, "zero": false}, "axis": {"values": [0, 1, 2, 3, 4, 5], "title": "s"}}, "y2": {"datum": 0}}},
        {"mark": {"type": "area", "color": "#008000"}, "encoding": {"y": {"field": "s", "type": "quantitative"}, "y2": {"datum": 0}}}
      ]
    },
    {
      "width": 319, "height": 239,
      "title": {"text": "(d) Ec non-positivity w. XCVERIFIER"},
      "layer": [
        {"data": {"name": "cells"}, "transform": [{"filter": "datum.p === 'd'"}],
         "mark": {"type": "rect", "strokeWidth": 1, "strokeOpacity": 0.7},
         "encoding": {
           "x": {"field": "x0", "type": "quantitative", "scale": {"domain": [0.0001, 5], "nice": false, "zero": false}, "axis": {"values": [0.0001, 1, 2, 3, 4, 5], "labelExpr": "datum.value < 0.5 ? '0.0001' : format(datum.value, 'd')", "title": "rₛ"}},
           "x2": {"field": "x1"},
           "y": {"field": "y0", "type": "quantitative", "scale": {"domain": [1e-12, 5], "nice": false, "zero": false}, "axis": {"values": [1e-12, 1, 2, 3, 4, 5], "labelExpr": "datum.value < 0.5 ? '1e-12' : format(datum.value, 'd')", "title": "s"}},
           "y2": {"field": "y1"},
           "fill": {"field": "st", "type": "nominal", "scale": {"domain": ["ok", "fail", "open", "na"], "range": ["#77bb77", "#f67676", "#3d3d3d", "#808080"]}, "legend": null},
           "stroke": {"field": "st", "type": "nominal", "scale": {"domain": ["ok", "fail", "open", "na"], "range": ["#64a964", "#e26262", "#3d3d3d", "#808080"]}, "legend": null}
         }},
        {"data": {"name": "pts"}, "transform": [{"filter": "datum.p === 'd'"}],
         "mark": {"type": "point", "shape": "M-1,-1L1,1M-1,1L1,-1", "filled": false, "color": "#d01414", "strokeWidth": 1.2, "size": 22, "opacity": 0.85, "clip": true},
         "encoding": {"x": {"field": "r", "type": "quantitative", "axis": {"title": "rₛ"}}, "y": {"field": "s", "type": "quantitative", "axis": {"title": "s"}}}}
      ]
    },
    {
      "width": 319, "height": 239,
      "title": {"text": "(e) Ec scaling inequality w. XCVERIFIER"},
      "layer": [
        {"data": {"name": "cells"}, "transform": [{"filter": "datum.p === 'e'"}],
         "mark": {"type": "rect", "strokeWidth": 1, "strokeOpacity": 0.7},
         "encoding": {
           "x": {"field": "x0", "type": "quantitative", "scale": {"domain": [0.0001, 5], "nice": false, "zero": false}, "axis": {"values": [0.0001, 1, 2, 3, 4, 5], "labelExpr": "datum.value < 0.5 ? '0.0001' : format(datum.value, 'd')", "title": "rₛ"}},
           "x2": {"field": "x1"},
           "y": {"field": "y0", "type": "quantitative", "scale": {"domain": [1e-12, 5], "nice": false, "zero": false}, "axis": {"values": [1e-12, 1, 2, 3, 4, 5], "labelExpr": "datum.value < 0.5 ? '1e-12' : format(datum.value, 'd')", "title": "s"}},
           "y2": {"field": "y1"},
           "fill": {"field": "st", "type": "nominal", "scale": {"domain": ["ok", "fail", "open", "na"], "range": ["#77bb77", "#f67676", "#3d3d3d", "#808080"]}, "legend": null},
           "stroke": {"field": "st", "type": "nominal", "scale": {"domain": ["ok", "fail", "open", "na"], "range": ["#64a964", "#e26262", "#3d3d3d", "#808080"]}, "legend": null}
         }},
        {"data": {"name": "pts"}, "transform": [{"filter": "datum.p === 'e'"}],
         "mark": {"type": "point", "shape": "M-1,-1L1,1M-1,1L1,-1", "filled": false, "color": "#d01414", "strokeWidth": 1.2, "size": 22, "opacity": 0.85, "clip": true},
         "encoding": {"x": {"field": "r", "type": "quantitative", "axis": {"title": "rₛ"}}, "y": {"field": "s", "type": "quantitative", "axis": {"title": "s"}}}}
      ]
    },
    {
      "width": 319, "height": 239,
      "title": {"text": "(f) Conj. Tc upper bound w. XCVERIFIER"},
      "layer": [
        {"data": {"name": "cells"}, "transform": [{"filter": "datum.p === 'f'"}],
         "mark": {"type": "rect", "strokeWidth": 1, "strokeOpacity": 0.7},
         "encoding": {
           "x": {"field": "x0", "type": "quantitative", "scale": {"domain": [0.0001, 5], "nice": false, "zero": false}, "axis": {"values": [0.0001, 1, 2, 3, 4, 5], "labelExpr": "datum.value < 0.5 ? '0.0001' : format(datum.value, 'd')", "title": "rₛ"}},
           "x2": {"field": "x1"},
           "y": {"field": "y0", "type": "quantitative", "scale": {"domain": [1e-12, 5], "nice": false, "zero": false}, "axis": {"values": [1e-12, 1, 2, 3, 4, 5], "labelExpr": "datum.value < 0.5 ? '1e-12' : format(datum.value, 'd')", "title": "s"}},
           "y2": {"field": "y1"},
           "fill": {"field": "st", "type": "nominal", "scale": {"domain": ["ok", "fail", "open", "na"], "range": ["#77bb77", "#f67676", "#3d3d3d", "#808080"]}, "legend": null},
           "stroke": {"field": "st", "type": "nominal", "scale": {"domain": ["ok", "fail", "open", "na"], "range": ["#64a964", "#e26262", "#3d3d3d", "#808080"]}, "legend": null}
         }},
        {"data": {"name": "pts"}, "transform": [{"filter": "datum.p === 'f'"}],
         "mark": {"type": "point", "shape": "M-1,-1L1,1M-1,1L1,-1", "filled": false, "color": "#d01414", "strokeWidth": 1.2, "size": 22, "opacity": 0.85, "clip": true},
         "encoding": {"x": {"field": "r", "type": "quantitative", "axis": {"title": "rₛ"}}, "y": {"field": "s", "type": "quantitative", "axis": {"title": "s"}}}}
      ]
    }
  ]
}
